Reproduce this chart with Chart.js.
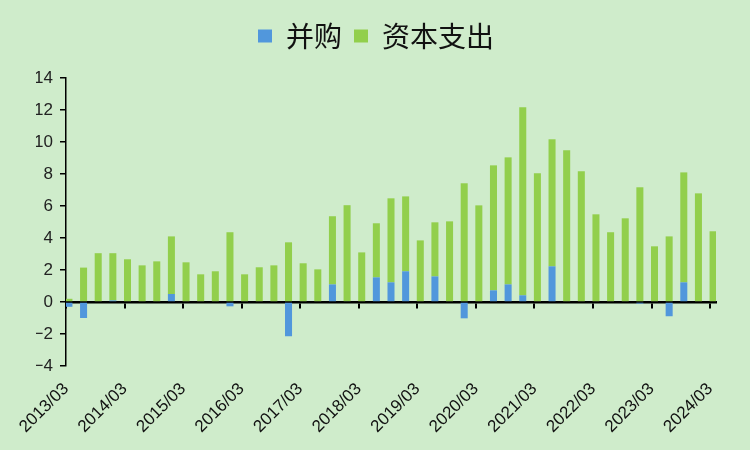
<!DOCTYPE html>
<html>
<head>
<meta charset="utf-8">
<script src="https://cdn.jsdelivr.net/npm/chart.js@4.4.1/dist/chart.umd.min.js"></script>
<style>
html,body{margin:0;padding:0;background:#cfeccb;}
#wrap{width:750px;height:450px;position:relative;}
</style>
</head>
<body>
<div id="wrap"><canvas id="capexChart"></canvas></div>
<script>
// quarters 2013/03 .. 2024/03
const quarters=[];
for(let y=2013;y<=2024;y++){
  ["03","06","09","12"].forEach(m=>{
    if(y===2024&&m!=="03") return;
    quarters.push(y+"/"+m);
  });
}

// 并购 (M&A)
const mna=[
-0.3,-1.0,0,0.1,0,0,0,0.5,0,0,0,-0.27,0,0,0,-2.14,
0,0,1.1,0.05,0,1.54,1.23,1.92,0,1.6,0,-1.02,0,0.73,1.1,0.42,
0,2.23,0,0,0,0,0,-0.1,0,-0.89,1.23,0,0
];

// 资本支出 (capex)
const capex=[
0.2,2.15,3.05,2.95,2.67,2.29,2.54,3.6,2.48,1.73,1.92,4.36,1.73,2.17,2.29,3.73,
2.42,2.04,4.26,6.0,3.1,3.38,5.25,4.68,3.85,3.38,5.04,7.42,6.04,7.81,7.94,11.75,
8.04,7.94,9.48,8.17,5.48,4.36,5.23,7.17,3.48,4.1,6.87,6.79,4.42
];

const yTicks=[-4,-2,0,2,4,6,8,10,12,14];
const labelEvery=4;

const ctx=document.getElementById("capexChart");

const setTicks=(scale)=>{
  const t=[];
  for(let i=0;i<quarters.length;i+=labelEvery) t.push({value:i-0.2});
  scale.ticks=t;
};

// leave some room under the legend
const legendGap={
  id:"legendGap",
  beforeInit(chart){
    const fit=chart.legend.fit;
    chart.legend.fit=function(){
      fit.call(this);
      this.height+=18;
    };
  }
};

new Chart(ctx,{

type:"bar",

data:{
  datasets:[
    {
      label:"并购",
      data:mna.map((v,i)=>({x:i,y:v})),
      backgroundColor:"#5197dc",
      borderWidth:0,
      stack:"s",
      categoryPercentage:1,
      barPercentage:0.48
    },
    {
      label:"资本支出",
      data:capex.map((v,i)=>({x:i,y:v})),
      backgroundColor:"#92cf4c",
      borderWidth:0,
      stack:"s",
      categoryPercentage:1,
      barPercentage:0.48
    }
  ]
},

plugins:[legendGap],

options:{
  responsive:true,
  maintainAspectRatio:false,
  animation:false,
  layout:{padding:{left:36,right:34,top:10,bottom:0}},
  plugins:{
    legend:{
      position:"top",
      labels:{
        boxWidth:14,
        boxHeight:13,
        padding:12,
        color:"#111",
        font:{family:"'Noto Sans CJK SC'",size:28}
      }
    },
    tooltip:{enabled:false}
  },
  scales:{
    x:{
      type:"linear",
      position:{y:0},
      stacked:true,
      offset:false,
      min:-0.2,
      max:44.2,
      z:1,
      afterBuildTicks:setTicks,
      ticks:{display:false},
      grid:{drawOnChartArea:false,drawTicks:true,tickLength:5,color:"#000",lineWidth:2,offset:false},
      border:{color:"#000",width:2.5}
    },
    x2:{
      type:"linear",
      position:"bottom",
      offset:false,
      min:-0.2,
      max:44.2,
      afterBuildTicks:setTicks,
      afterFit:(s)=>{s.height=84;},
      grid:{display:false},
      border:{display:false},
      ticks:{
        minRotation:45,
        maxRotation:45,
        padding:5,
        color:"#111",
        font:{family:"'Liberation Sans'",size:17},
        callback:(v)=>quarters[Math.round(v+0.2)]
      }
    },
    y:{
      stacked:true,
      min:-4,
      max:14,
      afterBuildTicks:(s)=>{s.ticks=yTicks.map(v=>({value:v}));},
      afterFit:(s)=>{s.width=30;},
      grid:{drawOnChartArea:false,drawTicks:true,tickLength:6,color:"#000",lineWidth:1.5},
      border:{color:"#000",width:1.5},
      ticks:{
        padding:7,
        color:"#222",
        font:{family:"'Liberation Sans'",size:17},
        callback:(v)=>String(v).replace("-","\u2212")
      }
    }
  }
}

});
</script>
</body>
</html>
